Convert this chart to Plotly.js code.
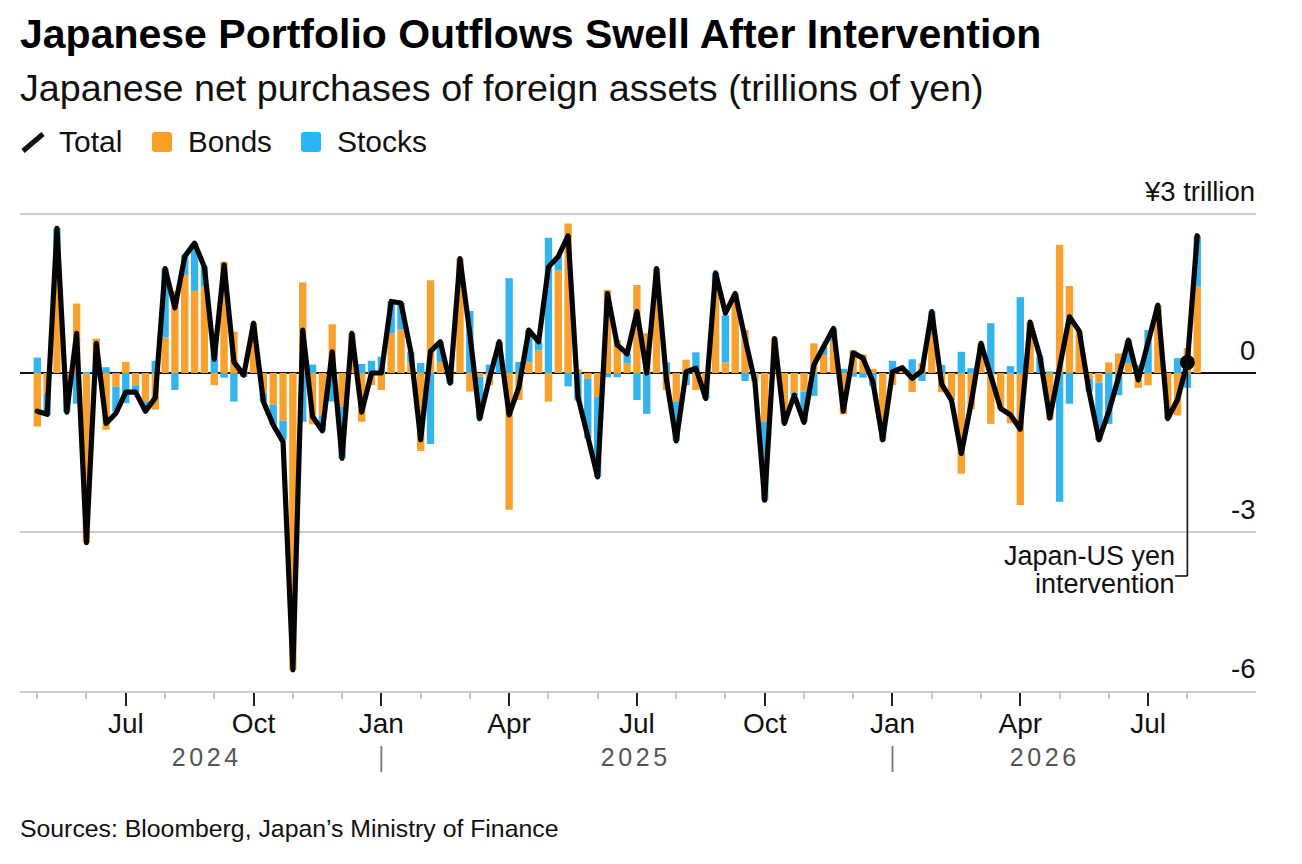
<!DOCTYPE html>
<html>
<head>
<meta charset="utf-8">
<script src="https://cdn.plot.ly/plotly-3.0.1.min.js"></script>
<style>
html,body{margin:0;padding:0;background:#fff}
#chart{width:1302px;height:864px}
g.annotation[data-index="6"] text, g.annotation[data-index="7"] text, g.annotation[data-index="8"] text{letter-spacing:3.6px}
path.js-line{stroke-linejoin:round !important;stroke-linecap:round !important}
</style>
</head>
<body>
<div id="chart"></div>
<script>
const bonds = [-1.01,-0.40,2.40,-0.20,1.31,-3.20,0.65,-1.07,-0.26,0.21,-0.23,-0.54,-0.69,0.67,1.55,1.85,1.55,1.63,-0.23,2.10,0.78,0.03,0.94,-0.38,-0.60,-0.90,-5.60,1.71,-0.97,-0.80,0.92,
-0.64,0.75,-0.92,-0.23,-0.32,0.75,0.82,0.20,-1.47,1.75,0.21,-0.10,2.16,-0.35,-0.07,-0.23,0.00,-2.58,-0.51,0.21,0.43,-0.54,1.93,2.82,0.07,-0.11,-0.45,1.57,0.62,0.18,1.66,0.75,
1.97,-0.32,-0.54,0.25,-0.32,-0.30,1.60,0.20,1.50,0.81,-0.16,-0.92,0.65,-0.95,-0.37,-0.35,0.56,0.34,0.59,-0.78,0.43,0.35,0.08,-1.28,-0.23,0.06,-0.36,0.18,0.72,-0.36,-0.51,
-1.90,-0.68,0.56,-0.96,-0.67,-0.95,-2.49,0.96,0.00,-0.88,2.42,1.64,0.79,-0.10,-0.18,0.20,0.37,0.18,-0.28,-0.23,1.28,-0.86,-0.80,0.47,1.63];
const stocks = [0.29,-0.40,0.33,-0.54,-0.58,0.02,-0.09,0.11,-0.47,-0.57,-0.13,-0.18,0.23,1.30,-0.32,0.37,0.90,0.38,0.50,-0.09,-0.54,-0.07,0.00,-0.16,-0.38,-0.36,0.00,-0.92,0.16,-0.29,-0.54,
-0.97,0.00,0.17,0.23,0.31,0.60,0.50,0.20,0.19,-1.34,0.38,-0.10,0.00,1.17,-0.79,0.16,0.59,1.79,0.21,0.60,0.16,2.55,0.27,-0.25,-0.52,-1.12,-1.51,-0.08,-0.08,0.18,-0.51,-0.77,
0.00,0.20,-0.74,-0.23,0.39,-0.18,0.29,0.89,0.00,-0.15,0.00,-1.48,0.00,0.00,-0.05,-0.57,-0.43,0.16,0.25,0.08,-0.07,-0.09,-0.25,0.00,0.23,0.04,0.26,-0.15,0.44,0.15,0.00,
0.40,0.09,0.00,0.94,0.00,0.13,1.43,0.00,0.31,0.03,-2.43,-0.58,0.00,-0.25,-1.09,-0.96,-0.42,0.44,0.15,0.81,0.00,0.00,0.28,-0.28,0.96];
const total = [-0.72,-0.78,2.73,-0.74,0.75,-3.20,0.56,-0.95,-0.76,-0.36,-0.36,-0.72,-0.47,1.97,1.23,2.20,2.45,2.00,0.26,2.04,0.21,-0.04,0.94,-0.54,-0.98,-1.30,-5.60,0.81,-0.82,-1.09,0.40,
-1.61,0.75,-0.74,0.00,0.00,1.35,1.32,0.40,-1.26,0.41,0.59,-0.19,2.16,0.75,-0.86,-0.10,0.59,-0.79,-0.26,0.81,0.59,2.00,2.20,2.59,-0.45,-1.20,-1.96,1.50,0.53,0.36,1.16,0.00,
1.97,-0.12,-1.28,0.02,0.09,-0.48,1.89,1.13,1.50,0.65,-0.16,-2.40,0.65,-0.95,-0.42,-0.93,0.15,0.50,0.84,-0.72,0.38,0.28,-0.16,-1.26,0.02,0.10,-0.10,0.04,1.16,-0.21,-0.51,
-1.52,-0.57,0.56,-0.03,-0.67,-0.79,-1.06,0.96,0.31,-0.85,0.12,1.06,0.79,-0.35,-1.26,-0.73,-0.08,0.62,-0.13,0.59,1.28,-0.86,-0.50,0.20,2.59];
const weeks = bonds.map((_, i) => i);
const majorTicks = [9,22,35,48,61,74,87,100,113];
const majorLabels = ['Jul','Oct','Jan','Apr','Jul','Oct','Jan','Apr','Jul'];
const minorTicks = [0,5,13,18,26,31,39,44,52,57,65,70,78,83,91,96,104,109,117];
const yTicks = [3,0,-3,-6];
const yLabels = ['¥3 trillion','0','-3','-6'];
const years = ['2024','2025','2026'];
const yearCenters = [17.3,60.9,102.5];
const yearBreaks = [35,87];
const interventionIndex = [117];
const interventionValue = [0.20];

const FONT = '"Liberation Sans", Arial, sans-serif';
const L=20, R=1256, T=212, B=691;
const UNIT=53;
const px = p => (p-L)/(R-L);
const py = p => (B-p)/(B-T);

const traces = [
  {type:'bar',name:'Bonds',x:weeks,y:bonds,marker:{color:'#F9A12E',line:{width:0}}},
  {type:'bar',name:'Stocks',x:weeks,y:stocks,marker:{color:'#33B4EE',line:{width:0}}},
  {type:'scatter',mode:'lines',name:'Total',x:weeks,y:total,line:{color:'#050505',width:5.2,shape:'linear'}},
  {type:'scatter',mode:'markers',name:'Intervention',x:interventionIndex,y:interventionValue,marker:{color:'#050505',size:15}}
];
function txt(text,x,y,size,opts){
  return Object.assign({text,xref:'paper',yref:'paper',x:px(x),y:py(y),xanchor:'left',yanchor:'middle',showarrow:false,
    font:{family:FONT,size,color:'#111'}},opts||{});
}
const annotations = [
  txt('<b>Japanese Portfolio Outflows Swell After Intervention</b>',18,34,41,{font:{family:FONT,size:41,color:'#000'}}),
  txt('Japanese net purchases of foreign assets (trillions of yen)',18,88,37.7),
  txt('Total',57,141,30),
  txt('Bonds',186,141,29.6),
  txt('Stocks',335,141,30),
  txt('Sources: Bloomberg, Japan’s Ministry of Finance',18,828,24.8)
];
years.forEach((y,i)=>annotations.push({text:y,xref:'x',yref:'paper',x:yearCenters[i],y:py(757),xanchor:'center',yanchor:'middle',showarrow:false,font:{family:FONT,size:25,color:'#555'}}));
annotations.push(txt('Japan-US yen',1177,556,27,{xanchor:'right'}));
annotations.push(txt('intervention',1177,584,27,{xanchor:'right'}));
yTicks.forEach((v,i)=>annotations.push({text:yLabels[i],xref:'paper',yref:'y',x:px(1257),y:v,yshift:23,xanchor:'right',yanchor:'middle',showarrow:false,font:{family:FONT,size:27.5,color:'#111'}}));

const shapes = [
  {type:'line',xref:'paper',yref:'paper',x0:px(23),x1:px(43),y0:py(151),y1:py(134),line:{color:'#111',width:5}},
  {type:'path',xref:'paper',yref:'paper',fillcolor:'#FB9F24',line:{width:0},path:roundRect(152,132,172,152,3)},
  {type:'path',xref:'paper',yref:'paper',fillcolor:'#29B6F6',line:{width:0},path:roundRect(301,132,321,152,3)},
  {type:'line',xref:'x',yref:'y',x0:interventionIndex[0],x1:interventionIndex[0],y0:interventionValue[0],y1:-3.83,line:{color:'#111',width:1.6},layer:'above'},
  {type:'line',xref:'x',yref:'y',x0:interventionIndex[0],x1:interventionIndex[0]-1.25,y0:-3.83,y1:-3.83,line:{color:'#111',width:1.6}}
];
yearBreaks.forEach(b=>shapes.push({type:'line',xref:'x',yref:'paper',x0:b,x1:b,y0:py(746),y1:py(772),line:{color:'#777',width:1.8}}));
function roundRect(x0,y0,x1,y1,r){
  const X=px, Y=py;
  return `M${X(x0+r)},${Y(y0)} L${X(x1-r)},${Y(y0)} Q${X(x1)},${Y(y0)} ${X(x1)},${Y(y0+r)} L${X(x1)},${Y(y1-r)} Q${X(x1)},${Y(y1)} ${X(x1-r)},${Y(y1)} L${X(x0+r)},${Y(y1)} Q${X(x0)},${Y(y1)} ${X(x0)},${Y(y1-r)} L${X(x0)},${Y(y0+r)} Q${X(x0)},${Y(y0)} ${X(x0+r)},${Y(y0)} Z`;
}
const layout = {
  width:1302,height:864,
  margin:{l:L,r:1302-R,t:T,b:864-B,pad:0},
  paper_bgcolor:'#fff',plot_bgcolor:'#fff',
  showlegend:false,barmode:'relative',bargap:0.25,
  font:{family:FONT,color:'#111'},
  xaxis:{range:[-1.76,123.98],fixedrange:true,showgrid:false,zeroline:false,
    tickmode:'array',tickvals:majorTicks,ticktext:majorLabels,ticks:'outside',ticklen:13,tickwidth:2,tickcolor:'#222',
    tickfont:{family:FONT,size:28,color:'#111'},ticklabelstandoff:-7,
    showline:true,linecolor:'#cccccc',linewidth:2,
    minor:{tickmode:'array',tickvals:minorTicks,ticks:'outside',ticklen:6,tickwidth:2,tickcolor:'#c8c8c8',showgrid:false}},
  yaxis:{range:[-6,3+(214-T)/UNIT],fixedrange:true,side:'right',tickmode:'array',tickvals:yTicks,showticklabels:false,ticks:'',
    showgrid:true,gridcolor:'#cccccc',gridwidth:2,
    zeroline:true,zerolinecolor:'#111',zerolinewidth:1.6,showline:false},
  annotations,shapes
};
Plotly.newPlot('chart',traces,layout,{staticPlot:true,displayModeBar:false});
</script>
</body>
</html>
